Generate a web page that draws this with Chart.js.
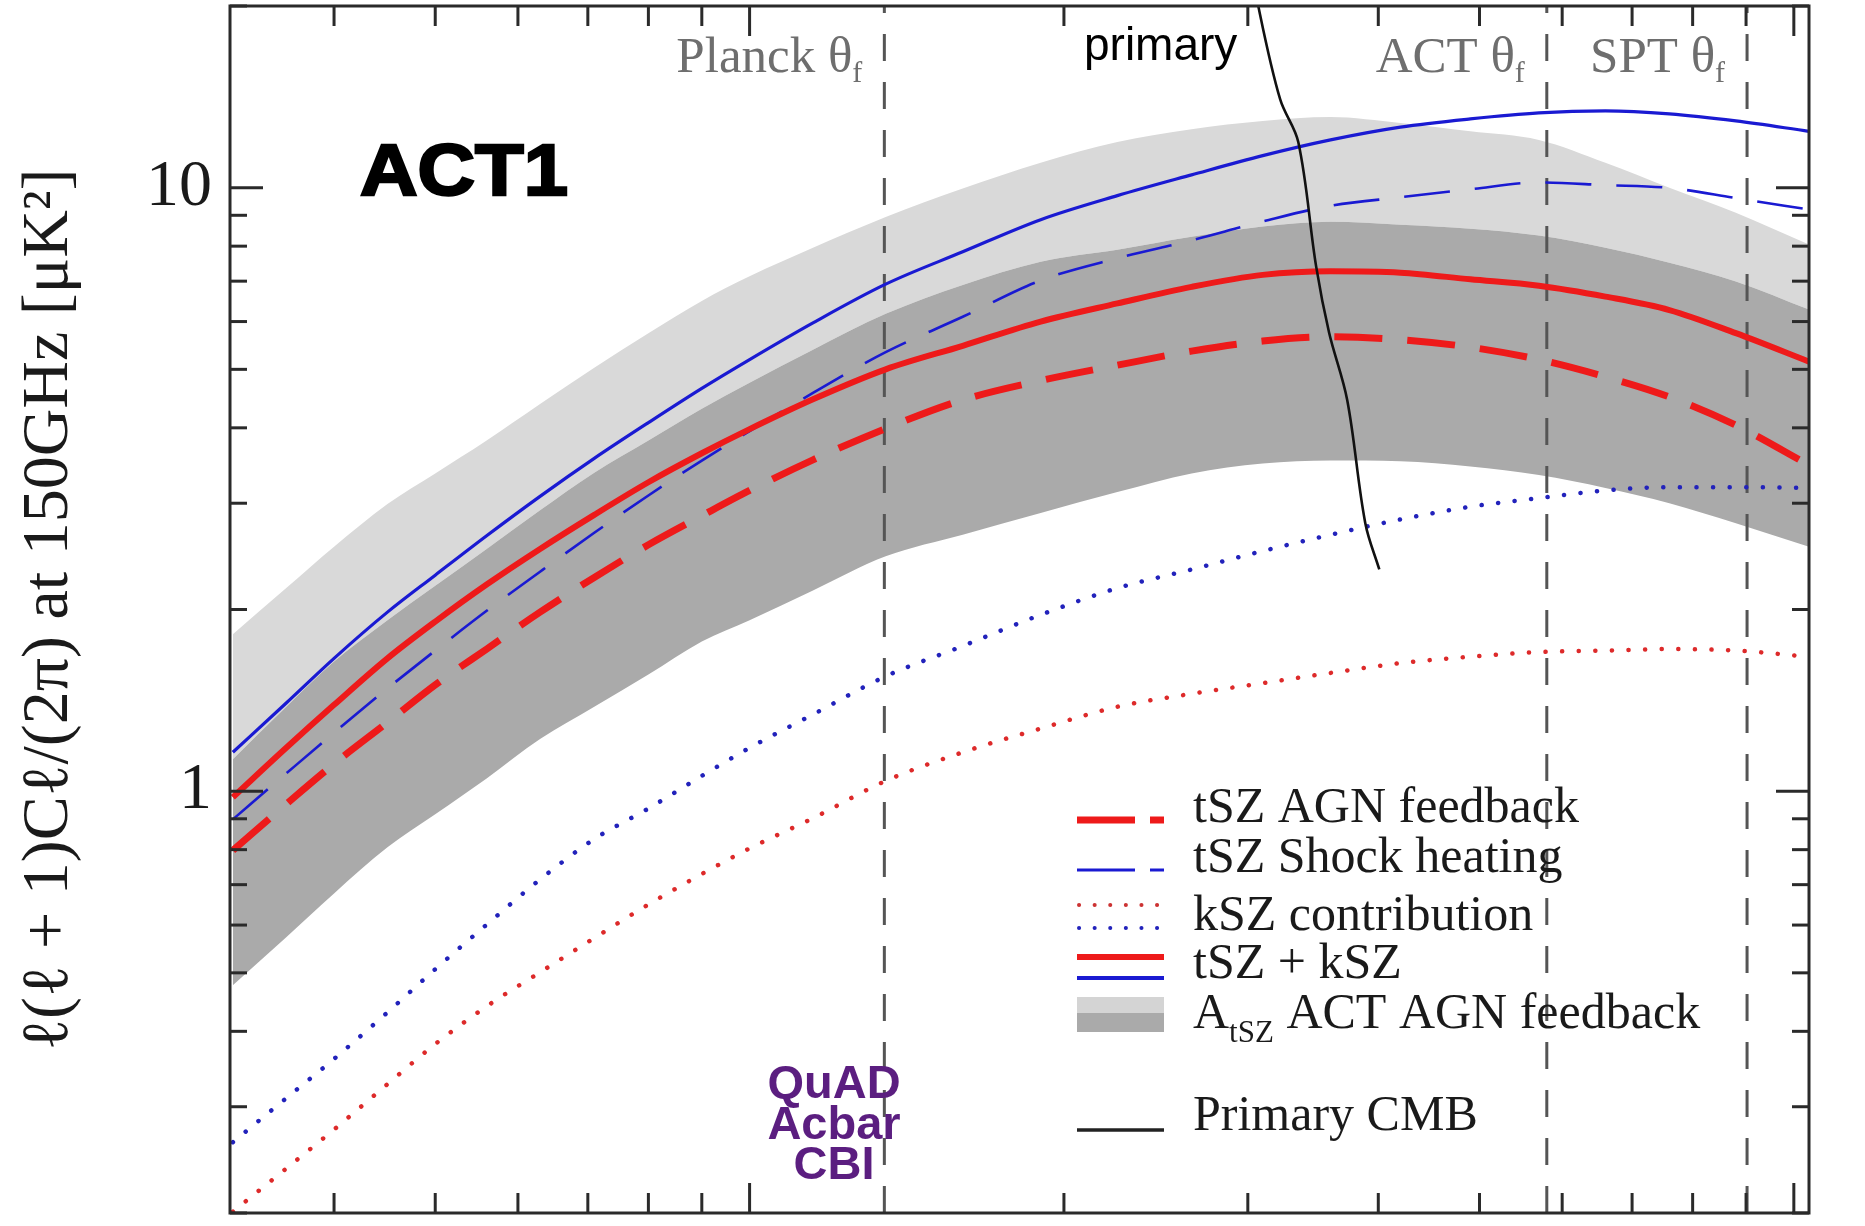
<!DOCTYPE html>
<html>
<head>
<meta charset="utf-8">
<script src="https://cdn.jsdelivr.net/npm/chart.js@4.4.1/dist/chart.umd.min.js"></script>
<style>
  html, body { margin: 0; padding: 0; background: #fff; }
  #wrap { width: 1865px; height: 1226px; position: relative; }
</style>
</head>
<body>
<div id="wrap"><canvas id="chart"></canvas></div>
<script>
// multipole grid shared by the model curves
const ells = [320, 360, 400, 450, 500, 560, 630, 710, 800, 900, 1000, 1150, 1350, 1600, 1900, 2250, 2650, 3100, 3600, 4200, 4900, 5700, 6600, 7600, 8800, 10340];

// A_tSZ ACT band (light = outer, dark = inner)
const bandLightTop = [1.82, 2.17, 2.54, 2.99, 3.36, 3.81, 4.38, 5.03, 5.74, 6.49, 7.13, 7.95, 8.94, 9.97, 11.0, 11.9, 12.5, 12.9, 13.1, 12.8, 12.4, 12.0, 11.0, 10.0, 9.09, 8.05];
const bandDarkTop = [1.13, 1.38, 1.64, 1.92, 2.19, 2.52, 2.92, 3.37, 3.81, 4.30, 4.75, 5.39, 6.18, 6.90, 7.54, 7.89, 8.29, 8.62, 8.78, 8.68, 8.55, 8.33, 7.95, 7.51, 6.99, 6.28];
const bandDarkBottom = [0.477, 0.573, 0.677, 0.807, 0.916, 1.05, 1.22, 1.38, 1.56, 1.77, 1.92, 2.15, 2.45, 2.66, 2.89, 3.13, 3.36, 3.49, 3.53, 3.52, 3.45, 3.34, 3.18, 3.00, 2.78, 2.54];

// AGN feedback model (red)
const tszAgn = [0.798, 0.952, 1.11, 1.30, 1.50, 1.72, 1.98, 2.26, 2.56, 2.86, 3.15, 3.54, 3.99, 4.45, 4.79, 5.08, 5.36, 5.57, 5.66, 5.60, 5.44, 5.19, 4.86, 4.50, 4.04, 3.47];
const kszAgn = [0.201, 0.237, 0.275, 0.327, 0.381, 0.440, 0.501, 0.571, 0.649, 0.729, 0.804, 0.902, 1.04, 1.16, 1.27, 1.38, 1.45, 1.51, 1.57, 1.63, 1.67, 1.70, 1.71, 1.72, 1.71, 1.67];
const totalAgn = [0.977, 1.18, 1.39, 1.66, 1.91, 2.20, 2.52, 2.87, 3.25, 3.63, 3.98, 4.46, 5.00, 5.47, 6.00, 6.43, 6.85, 7.17, 7.27, 7.23, 7.05, 6.88, 6.60, 6.27, 5.74, 5.15];

// shock heating model (blue)
const tszShock = [0.898, 1.07, 1.25, 1.48, 1.71, 1.99, 2.31, 2.68, 3.09, 3.53, 3.95, 4.57, 5.34, 6.11, 7.02, 7.64, 8.18, 8.79, 9.33, 9.64, 9.94, 10.2, 10.1, 9.99, 9.61, 9.20];
const kszShock = [0.262, 0.310, 0.360, 0.430, 0.507, 0.601, 0.714, 0.833, 0.936, 1.06, 1.18, 1.34, 1.55, 1.74, 1.96, 2.17, 2.33, 2.50, 2.66, 2.82, 2.96, 3.06, 3.15, 3.19, 3.19, 3.18];
const totalShock = [1.16, 1.40, 1.66, 1.98, 2.28, 2.65, 3.08, 3.56, 4.08, 4.65, 5.19, 5.97, 6.92, 7.83, 8.85, 9.70, 10.5, 11.3, 12.0, 12.6, 13.0, 13.3, 13.4, 13.25, 12.9, 12.4];

// primary CMB damping tail
const primaryElls = [3050, 3070, 3222, 3353, 3488, 3589, 3735, 3887, 4009];
const primaryVals = [22.1, 20.0, 14.0, 11.9, 7.40, 5.75, 4.45, 2.78, 2.33];

// beam scales of the experiments
const thetaNames = ['Planck', 'ACT', 'SPT'];
const thetaElls = [1346, 5800, 9020];

const xTicks = [400, 500, 600, 700, 800, 900, 1000, 2000, 3000, 4000, 5000, 6000, 7000, 8000, 9000, 10000];
const yTicks = [0.2, 0.3, 0.4, 0.5, 0.6, 0.7, 0.8, 0.9, 1, 2, 3, 4, 5, 6, 7, 8, 9, 10, 20];
const yLabelled = [1, 10];

const RED = '#ee1a1a';
const BLUE = '#1a1ad2';
const SERIF = '"Liberation Serif", "Times New Roman", serif';
const SANS = '"Liberation Sans", Arial, sans-serif';

const pts = (xs, ys) => xs.map((v, i) => ({ x: v, y: ys[i] }));

function curve(label, vals, color, width, dash, order, extra) {
  return Object.assign({
    label, data: pts(ells, vals), borderColor: color, borderWidth: width,
    borderDash: dash, pointRadius: 0, fill: false, order,
    cubicInterpolationMode: 'monotone'
  }, extra || {});
}

const datasets = [
  // 0..2 bands
  { label: 'lightTop', data: pts(ells, bandLightTop), borderWidth: 0, pointRadius: 0,
    backgroundColor: '#d9d9d9', fill: 1, order: 20, cubicInterpolationMode: 'monotone' },
  { label: 'darkTop', data: pts(ells, bandDarkTop), borderWidth: 0, pointRadius: 0,
    backgroundColor: '#aaaaaa', fill: 2, order: 19, cubicInterpolationMode: 'monotone' },
  { label: 'darkBottom', data: pts(ells, bandDarkBottom), borderWidth: 0, pointRadius: 0,
    fill: false, order: 18, cubicInterpolationMode: 'monotone' },
];

thetaElls.forEach((l, i) => {
  datasets.push({ label: thetaNames[i] + ' theta', data: [{ x: l, y: 0.2 }, { x: l, y: 20 }],
    borderColor: '#555', borderWidth: 3, borderDash: [27, 21], pointRadius: 0, order: 15 });
});

datasets.push(
  curve('kSZ AGN', kszAgn, '#dd2a2a', 4.5, [0.1, 16.5], 8, { borderCapStyle: 'round' }),
  curve('kSZ shock', kszShock, '#2222bb', 4.5, [0.1, 16.5], 8, { borderCapStyle: 'round' }),
  curve('tSZ shock', tszShock, BLUE, 2.6, [46, 25], 7),
  curve('tSZ AGN', tszAgn, RED, 7, [48, 25], 6),
  curve('total shock', totalShock, BLUE, 3.2, [], 5),
  curve('total AGN', totalAgn, RED, 6, [], 4),
  { label: 'Primary CMB', data: pts(primaryElls, primaryVals), borderColor: '#111', borderWidth: 2.6,
    pointRadius: 0, order: 1, tension: 0.35 }
);

const overlay = {
  id: 'overlay',
  afterDatasetsDraw(chart) {
    const { ctx, chartArea: a, scales: { x, y } } = chart;
    const seg = (x1, y1, x2, y2) => { ctx.beginPath(); ctx.moveTo(x1, y1); ctx.lineTo(x2, y2); ctx.stroke(); };
    ctx.save();

    // frame + inward ticks
    ctx.strokeStyle = '#2a2a2a';
    ctx.lineWidth = 3;
    ctx.setLineDash([]);
    yTicks.forEach(v => {
      const py = y.getPixelForValue(v);
      const len = yLabelled.includes(v) ? 33 : 17;
      seg(a.left, py, a.left + len, py);
      seg(a.right, py, a.right - len, py);
    });
    xTicks.forEach(v => {
      const px = x.getPixelForValue(v);
      const len = (v === 1000 || v === 10000) ? 30 : 20;
      seg(px, a.top, px, a.top + len);
      seg(px, a.bottom, px, a.bottom - len);
    });
    ctx.strokeRect(a.left, a.top, a.right - a.left, a.bottom - a.top);

    // theta_f labels, right aligned against their dashed lines
    ctx.fillStyle = '#6e6e6e';
    ctx.textBaseline = 'alphabetic';
    ctx.textAlign = 'left';
    thetaElls.forEach((l, i) => {
      const right = x.getPixelForValue(l) - 22;
      ctx.font = '51px ' + SERIF;
      const main = thetaNames[i] + ' \u03b8';
      const w1 = ctx.measureText(main).width;
      ctx.font = '30px ' + SERIF;
      const w2 = ctx.measureText('f').width;
      const x0 = right - w1 - w2;
      ctx.font = '51px ' + SERIF;
      ctx.fillText(main, x0, a.top + 66);
      ctx.font = '30px ' + SERIF;
      ctx.fillText('f', x0 + w1, a.top + 76);
    });

    // "primary" tag
    ctx.fillStyle = '#000';
    ctx.font = '46px ' + SANS;
    ctx.fillText('primary', 1084, 60);

    // ACT1
    ctx.save();
    ctx.font = 'bold 72px ' + SANS;
    const wAct = ctx.measureText('ACT1').width;
    ctx.translate(360, 195);
    ctx.scale(208 / wAct, 1);
    ctx.fillStyle = '#000';
    ctx.strokeStyle = '#000';
    ctx.lineWidth = 2.5;
    ctx.fillText('ACT1', 0, 0);
    ctx.strokeText('ACT1', 0, 0);
    ctx.restore();

    // QuAD / Acbar / CBI
    ctx.fillStyle = '#5b1e80';
    ctx.font = 'bold 47px ' + SANS;
    ctx.textAlign = 'center';
    ctx.fillText('QuAD', 834, 1098);
    ctx.fillText('Acbar', 834, 1139);
    ctx.fillText('CBI', 834, 1179);

    // legend
    ctx.textAlign = 'left';
    const lx1 = 1077, lx2 = 1164, tx = 1193;
    ctx.lineCap = 'butt';
    ctx.strokeStyle = RED; ctx.lineWidth = 7;
    seg(lx1, 820, 1135, 820); seg(1150, 820, lx2, 820);
    ctx.strokeStyle = BLUE; ctx.lineWidth = 3;
    seg(lx1, 870, 1135, 870); seg(1150, 870, lx2, 870);
    ctx.lineCap = 'round'; ctx.lineWidth = 4; ctx.setLineDash([0.1, 15.5]);
    ctx.strokeStyle = '#cc3333'; seg(lx1 + 2, 905, lx2, 905);
    ctx.strokeStyle = '#2222bb'; seg(lx1 + 2, 928, lx2, 928);
    ctx.setLineDash([]); ctx.lineCap = 'butt';
    ctx.strokeStyle = RED; ctx.lineWidth = 6; seg(lx1, 957, lx2, 957);
    ctx.strokeStyle = BLUE; ctx.lineWidth = 4; seg(lx1, 978, lx2, 978);
    ctx.fillStyle = '#d4d4d4'; ctx.fillRect(lx1, 997, lx2 - lx1, 16);
    ctx.fillStyle = '#aaaaaa'; ctx.fillRect(lx1, 1013, lx2 - lx1, 19);
    ctx.strokeStyle = '#222'; ctx.lineWidth = 3.5; seg(lx1, 1130, lx2, 1130);

    ctx.fillStyle = '#1a1a1a';
    ctx.font = '50px ' + SERIF;
    ctx.fillText('tSZ AGN feedback', tx, 822);
    ctx.fillText('tSZ Shock heating', tx, 872);
    ctx.fillText('kSZ contribution', tx, 930);
    ctx.fillText('tSZ + kSZ', tx, 978);
    ctx.fillText('A', tx, 1028);
    const wA = ctx.measureText('A').width;
    ctx.font = '31px ' + SERIF;
    ctx.fillText('tSZ', tx + wA, 1042);
    const wSub = ctx.measureText('tSZ').width;
    ctx.font = '50px ' + SERIF;
    ctx.fillText(' ACT AGN feedback', tx + wA + wSub, 1028);
    ctx.fillText('Primary CMB', tx, 1130);

    ctx.restore();
  }
};

new Chart(document.getElementById('chart'), {
  type: 'line',
  data: { datasets },
  options: {
    responsive: true,
    maintainAspectRatio: false,
    animation: false,
    devicePixelRatio: 1,
    layout: { padding: { left: 0, top: 6, right: 56, bottom: 13 } },
    plugins: { legend: { display: false }, tooltip: { enabled: false } },
    scales: {
      x: {
        type: 'logarithmic', min: 318, max: 10340,
        ticks: { display: false },
        grid: { display: false, drawTicks: false },
        border: { display: false },
        afterFit: s => { s.height = 0; s.paddingLeft = 0; s.paddingRight = 0; }
      },
      y: {
        type: 'logarithmic', min: 0.2, max: 20,
        afterBuildTicks: s => { s.ticks = yTicks.map(v => ({ value: v })); },
        afterFit: s => { s.width = 230; s.paddingTop = 0; s.paddingBottom = 0; },
        ticks: {
          autoSkip: false, padding: 18, color: '#1a1a1a',
          font: { family: SERIF, size: 66 },
          callback: v => yLabelled.includes(v) ? String(v) : ''
        },
        grid: { display: false, drawTicks: false },
        border: { display: false },
        title: {
          display: true,
          text: '\u2113(\u2113 + 1)C\u2113/(2\u03c0) at 150GHz [\u03bcK\u00b2]',
          color: '#1a1a1a',
          font: { family: SERIF, size: 66 },
          padding: { top: 10, bottom: 0 }
        }
      }
    }
  },
  plugins: [overlay]
});
</script>
</body>
</html>
